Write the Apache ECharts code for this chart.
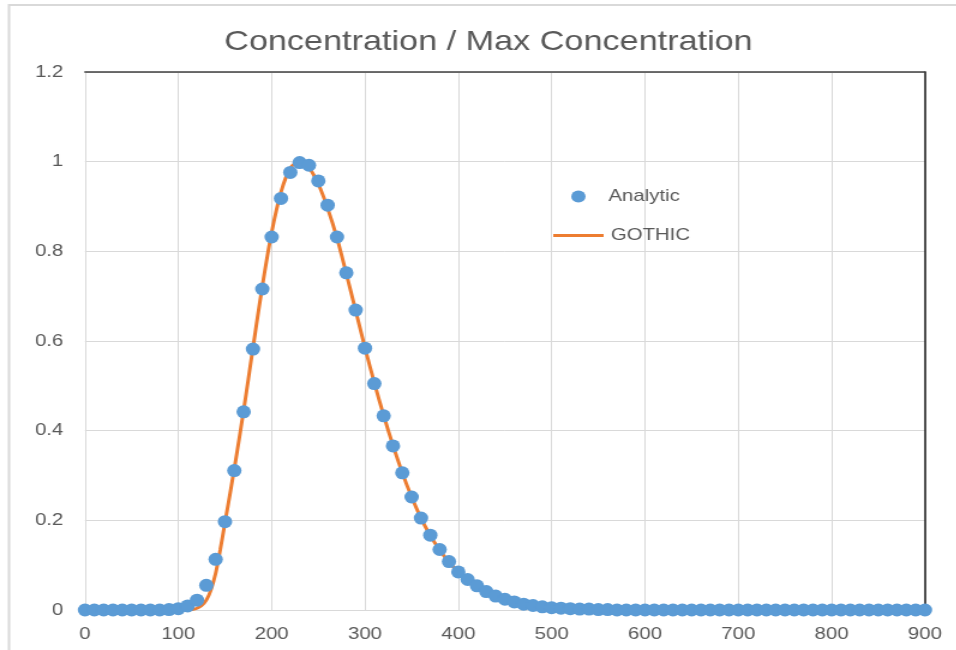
<!DOCTYPE html>
<html>
<head>
<meta charset="utf-8">
<script src="https://cdn.jsdelivr.net/npm/echarts@6/dist/echarts.min.js"></script>
<style>
html,body{margin:0;padding:0;background:#fff;overflow:hidden;}
#chart{width:797px;height:650px;transform:scaleX(1.2);transform-origin:0 0;}
</style>
</head>
<body>
<div id="chart"></div>
<script>
const titleText = 'Concentration / Max Concentration';
const xTicks = [0, 100, 200, 300, 400, 500, 600, 700, 800, 900];
const yTicks = [0, 0.2, 0.4, 0.6, 0.8, 1, 1.2];

const analyticX = [0,10,20,30,40,50,60,70,80,90,100,110,120,130,140,150,160,170,180,190,200,210,220,230,240,250,260,270,280,290,300,310,320,330,340,350,360,370,380,390,400,410,420,430,440,450,460,470,480,490,500,510,520,530,540,550,560,570,580,590,600,610,620,630,640,650,660,670,680,690,700,710,720,730,740,750,760,770,780,790,800,810,820,830,840,850,860,870,880,890,900];
const analyticY = [0,0,0,0,0,0,0,0,0,0.001,0.003,0.009,0.022,0.055,0.113,0.197,0.311,0.442,0.582,0.716,0.832,0.918,0.976,0.998,0.992,0.957,0.903,0.832,0.752,0.669,0.584,0.505,0.433,0.366,0.306,0.252,0.205,0.167,0.135,0.108,0.085,0.068,0.054,0.041,0.031,0.024,0.018,0.013,0.010,0.007,0.005,0.004,0.003,0.002,0.002,0.001,0.001,0,0,0,0,0,0,0,0,0,0,0,0,0,0,0,0,0,0,0,0,0,0,0,0,0,0,0,0,0,0,0,0,0,0];

const gothicX = [0,50,100,110,115,120,125,130,135,140,145,150,160,170,180,190,200,210,220,230,240,250,260,270,280,290,300,310,320,330,340,350,360,370,380,390,400,410,420,430,440,450,460,470,480,490,500,550,600,700,800,900];
const gothicY = [0,0,0,0,0.001,0.004,0.010,0.022,0.045,0.082,0.135,0.195,0.315,0.445,0.585,0.722,0.842,0.932,0.986,1.0,0.986,0.950,0.896,0.830,0.750,0.668,0.585,0.507,0.434,0.367,0.306,0.252,0.205,0.166,0.134,0.107,0.085,0.067,0.053,0.041,0.032,0.025,0.019,0.014,0.011,0.008,0.006,0.001,0,0,0,0];

const TXT = '#595959';
const FONT = '"Liberation Sans", Arial, sans-serif';

const chart = echarts.init(document.getElementById('chart'), null, {renderer: 'canvas'});
chart.setOption({
  animation: false,
  backgroundColor: '#fff',
  title: {
    text: titleText,
    left: 402, top: 23, textAlign: 'center',
    textStyle: {color: TXT, fontFamily: FONT, fontSize: 28.5, fontWeight: 'normal'}
  },
  graphic: [{
    type: 'rect', shape: {x: 7.5, y: 5, width: 1000, height: 1000},
    style: {fill: 'none', stroke: '#d9d9d9', lineWidth: 2}, silent: true
  }],
  legend: [{
    data: [{name: 'Analytic', icon: 'circle'}],
    left: 471, top: 183, orient: 'vertical',
    itemWidth: 12, itemHeight: 13, itemGap: 10,
    textStyle: {color: TXT, fontFamily: FONT, fontSize: 17, padding: [0, 0, 0, 14]}
  }, {
    data: [{name: 'GOTHIC', icon: 'rect'}],
    left: 456, top: 222, orient: 'vertical',
    itemWidth: 42, itemHeight: 3,
    textStyle: {color: TXT, fontFamily: FONT, fontSize: 17, padding: [0, 0, 0, 1]}
  }],
  grid: {left: 70.8, right: 26.2, top: 72, bottom: 40, containLabel: false},
  xAxis: [{
    type: 'value', min: xTicks[0], max: xTicks[xTicks.length - 1], interval: 100,
    axisLine: {show: true, onZero: false, lineStyle: {color: '#d9d9d9', width: 1}},
    axisTick: {show: false},
    splitLine: {show: true, lineStyle: {color: '#d9d9d9', width: 1}},
    axisLabel: {color: TXT, fontFamily: FONT, fontSize: 17, margin: 16,
      formatter: v => xTicks.includes(v) ? String(v) : ''}
  }, {
    type: 'value', position: 'top', min: xTicks[0], max: xTicks[xTicks.length - 1],
    axisLine: {show: true, onZero: false, lineStyle: {color: '#404040', width: 1.5}},
    axisTick: {show: false}, axisLabel: {show: false}, splitLine: {show: false}
  }],
  yAxis: [{
    type: 'value', min: yTicks[0], max: yTicks[yTicks.length - 1], interval: 0.2,
    axisLine: {show: true, onZero: false, lineStyle: {color: '#d9d9d9', width: 1}},
    axisTick: {show: false},
    splitLine: {show: true, lineStyle: {color: '#d9d9d9', width: 1}},
    axisLabel: {color: TXT, fontFamily: FONT, fontSize: 17, margin: 18,
      formatter: v => String(Math.round(v * 10) / 10)}
  }, {
    type: 'value', position: 'right', min: yTicks[0], max: yTicks[yTicks.length - 1],
    axisLine: {show: true, onZero: false, lineStyle: {color: '#1a1a1a', width: 1.5}},
    axisTick: {show: false}, axisLabel: {show: false}, splitLine: {show: false}
  }],
  series: [{
    name: 'GOTHIC', type: 'line', xAxisIndex: 0, yAxisIndex: 0,
    data: gothicX.map((x, i) => [x, gothicY[i]]),
    smooth: 0.3, showSymbol: false, symbol: 'none', z: 2,
    lineStyle: {color: '#ed7d31', width: 3},
    itemStyle: {color: '#ed7d31'}
  }, {
    name: 'Analytic', type: 'scatter', xAxisIndex: 0, yAxisIndex: 0,
    data: analyticX.map((x, i) => [x, analyticY[i]]),
    symbol: 'circle', symbolSize: [12, 13], z: 3,
    itemStyle: {color: '#5b9bd5', opacity: 1}
  }]
});
</script>
</body>
</html>
